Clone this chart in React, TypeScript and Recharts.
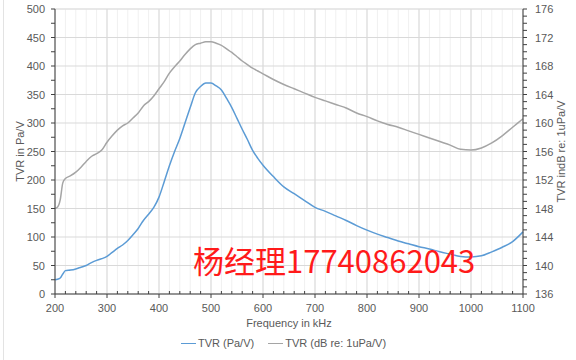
import React from 'react'
import { LineChart, Line, XAxis, YAxis, CartesianGrid, ReferenceLine, Legend, Label } from 'recharts'

// frequency in kHz
const freqs = [
  200, 205, 210, 215, 220, 230, 240, 250, 260, 270, 280, 290, 300, 310, 320, 330, 340, 350, 360, 370,
  380, 390, 400, 410, 420, 430, 440, 450, 460, 470, 480, 490, 500, 510, 520, 530, 540, 550, 560, 570,
  580, 590, 600, 620, 640, 660, 680, 700, 720, 740, 760, 780, 800, 820, 840, 860, 880, 900, 920, 940,
  960, 980, 1000, 1020, 1040, 1060, 1080, 1100
]

// TVR in Pa/V
const tvrPa = [
  25, 26, 28, 35, 41, 42, 44, 47, 50, 55, 59, 62, 66, 73, 80, 86, 94, 104, 115, 129,
  140, 152, 170, 197, 225, 250, 273, 300, 327, 353, 364, 370, 370, 365, 358, 343, 327, 308, 289, 271,
  252, 238, 226, 206, 188, 176, 164, 152, 145, 137, 129, 120, 112, 105, 99, 93, 88, 83, 79, 74,
  70, 66, 65, 67, 74, 82, 92, 109
]

// TVR in dB re 1uPa/V
const tvrDb = [
  148.0, 148.2, 149.2, 151.6, 152.2, 152.6, 153.1, 153.8, 154.6, 155.3, 155.7, 156.2, 157.3, 158.2, 159.0, 159.6, 160.0, 160.7, 161.4, 162.4,
  163.0, 163.8, 164.8, 165.8, 167.0, 167.9, 168.7, 169.6, 170.4, 171.0, 171.2, 171.4, 171.4, 171.2, 170.9, 170.4, 169.9, 169.3, 168.7, 168.2,
  167.7, 167.3, 166.9, 166.1, 165.4, 164.8, 164.2, 163.6, 163.1, 162.6, 162.1, 161.4, 160.9, 160.3, 159.8, 159.4, 158.9, 158.4, 157.9, 157.4,
  156.9, 156.3, 156.2, 156.5, 157.2, 158.2, 159.4, 160.6
]

const xMajor = [200, 300, 400, 500, 600, 700, 800, 900, 1000, 1100]
const leftMajor = [0, 50, 100, 150, 200, 250, 300, 350, 400, 450, 500]
const rightMajor = [136, 140, 144, 148, 152, 156, 160, 164, 168, 172, 176]

const steps = (from: number, to: number, step: number) => {
  const out: number[] = []
  for (let v = from; v <= to; v += step) out.push(v)
  return out
}
const xTicks = steps(200, 1100, 20)
const leftTicks = steps(0, 500, 25)
const rightTicks = steps(136, 176, 1)

const data = freqs.map((f, i) => ({ f, pa: tvrPa[i], db: tvrDb[i] }))

const BLUE = '#5B9BD5'
const GRAY = '#A5A5A5'
const AXIS = '#404040'
const TEXT = '#595959'
const FONT = '"Liberation Sans", Arial, sans-serif'

function makeTick(side: 'left' | 'right' | 'bottom', majors: number[]) {
  return (props: any) => {
    const { x, y, payload } = props
    const v = payload.value
    const major = majors.includes(v)
    if (side === 'bottom') {
      return (
        <g>
          <line x1={x} x2={x} y1={major ? y : y - 3} y2={major ? y + 4 : y} stroke={AXIS} />
          {major && (
            <text x={x} y={y + 18} textAnchor="middle" fontSize={11} fill={TEXT} fontFamily={FONT}>{v}</text>
          )}
        </g>
      )
    }
    const dir = side === 'left' ? -1 : 1
    return (
      <g>
        <line x1={x} x2={x + dir * 4} y1={y} y2={y} stroke={AXIS} />
        {major && (
          <text x={x + dir * (side === 'left' ? 10 : 12)} y={y + 4} textAnchor={side === 'left' ? 'end' : 'start'} fontSize={11} fill={TEXT} fontFamily={FONT}>{v}</text>
        )}
      </g>
    )
  }
}

const axisTitle = (text: string, side: 'left' | 'right' | 'bottom') => (props: any) => {
  const vb = props.viewBox || { x: 0, y: 0, width: 0, height: 0 }
  if (side === 'bottom') {
    return (
      <text x={vb.x + vb.width / 2} y={vb.y + 33} textAnchor="middle" fontSize={11} fill={TEXT} fontFamily={FONT}>{text}</text>
    )
  }
  const cx = side === 'left' ? vb.x + 20 : vb.x + 38
  const cy = vb.y + vb.height / 2
  return (
    <text x={cx} y={cy} transform={`rotate(-90 ${cx} ${cy})`} textAnchor="middle" dominantBaseline="central" fontSize={11} fill={TEXT} fontFamily={FONT}>{text}</text>
  )
}

const renderLegend = (props: any) => (
  <div style={{ height: 28, display: 'flex', justifyContent: 'center', alignItems: 'flex-start', gap: 14, paddingTop: 5, paddingRight: 9, boxSizing: 'border-box', fontFamily: FONT, fontSize: 11, color: TEXT }}>
    {(props.payload || []).map((p: any) => (
      <span key={p.value} style={{ display: 'flex', alignItems: 'center' }}>
        <span style={{ width: 15, borderTop: `1.5px solid ${p.color}`, marginRight: 2 }} />
        {p.value}
      </span>
    ))}
  </div>
)

export default function App(): React.JSX.Element {
  return (
    <div style={{ position: 'absolute', left: 0, top: 0, width: 576, height: 360, background: '#fff' }}>
      <div style={{ position: 'absolute', left: 3, top: 0, width: 1, height: 360, background: '#e3e3e3' }} />
      <LineChart width={576} height={360} data={data} margin={{ top: 9, right: 0, bottom: 0, left: 0 }}>
        <CartesianGrid stroke="#f0f0f0" strokeWidth={1} />
        {xMajor.map((v) => (
          <ReferenceLine key={`vx-${v}`} x={v} yAxisId="left" stroke="#d9d9d9" />
        ))}
        {leftMajor.map((v) => (
          <ReferenceLine key={`hy-${v}`} y={v} yAxisId="left" stroke="#d9d9d9" />
        ))}
        <XAxis
          dataKey="f"
          type="number"
          domain={[200, 1100]}
          ticks={xTicks}
          interval={0}
          height={38}
          tickSize={0}
          tickMargin={0}
          tickLine={false}
          stroke={AXIS}
          tick={makeTick('bottom', xMajor)}
        >
          <Label content={axisTitle('Frequency in kHz', 'bottom')} />
        </XAxis>
        <YAxis
          yAxisId="left"
          domain={[0, 500]}
          ticks={leftTicks}
          interval={0}
          width={55}
          tickSize={0}
          tickMargin={0}
          tickLine={false}
          stroke={AXIS}
          tick={makeTick('left', leftMajor)}
        >
          <Label content={axisTitle('TVR in Pa/V', 'left')} />
        </YAxis>
        <YAxis
          yAxisId="right"
          orientation="right"
          domain={[136, 176]}
          ticks={rightTicks}
          interval={0}
          width={53}
          tickSize={0}
          tickMargin={0}
          tickLine={false}
          stroke={AXIS}
          tick={makeTick('right', rightMajor)}
        >
          <Label content={axisTitle('TVR indB re: 1uPa/V', 'right')} />
        </YAxis>
        <Legend verticalAlign="bottom" height={28} content={renderLegend} />
        <Line yAxisId="left" type="monotone" dataKey="pa" name="TVR (Pa/V)" stroke={BLUE} strokeWidth={1.5} dot={false} isAnimationActive={false} />
        <Line yAxisId="right" type="monotone" dataKey="db" name="TVR (dB re: 1uPa/V)" stroke={GRAY} strokeWidth={1.5} dot={false} isAnimationActive={false} />
      </LineChart>
      <div style={{ position: 'absolute', left: 193, top: 244, fontFamily: '"Noto Sans CJK SC", sans-serif', fontSize: 31, lineHeight: 1, color: '#ff1a1a', whiteSpace: 'nowrap' }}>
        杨经理17740862043
      </div>
    </div>
  )
}
